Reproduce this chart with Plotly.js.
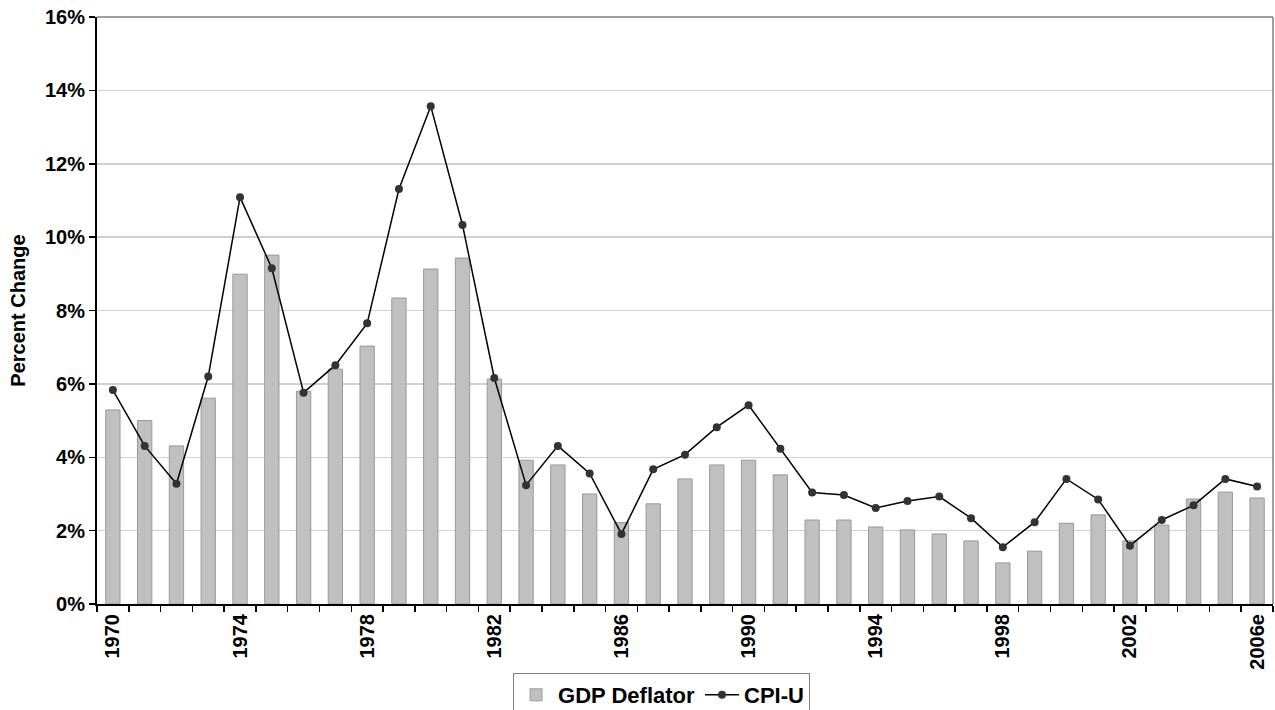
<!DOCTYPE html>
<html>
<head>
<meta charset="utf-8">
<script src="https://cdn.plot.ly/plotly-3.0.1.min.js"></script>
<style>
html,body{margin:0;padding:0;background:#fff;}
#chart{width:1275px;height:710px;}
</style>
</head>
<body>
<div id="chart"></div>
<script>
const years = ["1970","1971","1972","1973","1974","1975","1976","1977","1978","1979",
  "1980","1981","1982","1983","1984","1985","1986","1987","1988","1989",
  "1990","1991","1992","1993","1994","1995","1996","1997","1998","1999",
  "2000","2001","2002","2003","2004","2005","2006e"];
const tickLabels = ["1970","","","","1974","","","","1978","","","","1982","","","","1986","","","",
  "1990","","","","1994","","","","1998","","","","2002","","","","2006e"];
const gdpDeflator = [5.29,5.0,4.31,5.61,8.99,9.51,5.8,6.4,7.03,8.34,
  9.13,9.43,6.13,3.92,3.79,3.0,2.22,2.73,3.41,3.79,
  3.92,3.52,2.29,2.29,2.1,2.02,1.91,1.72,1.12,1.44,
  2.2,2.43,1.72,2.15,2.86,3.05,2.89];
const cpiU = [5.83,4.31,3.28,6.2,11.09,9.15,5.76,6.51,7.65,11.31,
  13.57,10.33,6.16,3.24,4.31,3.56,1.91,3.67,4.07,4.82,
  5.42,4.23,3.04,2.97,2.62,2.81,2.93,2.34,1.55,2.23,
  3.41,2.85,1.59,2.29,2.69,3.41,3.2];
const yTicks = [0,2,4,6,8,10,12,14,16];

const FONT = "'Liberation Sans', Arial, sans-serif";

const traces = [
  {
    type: "bar", name: "GDP Deflator", x: years, y: gdpDeflator,
    width: 0.45,
    marker: {color: "#c0c0c0", line: {color: "#999999", width: 1}},
    hoverinfo: "x+y"
  },
  {
    type: "scatter", mode: "lines+markers", name: "CPI-U", x: years, y: cpiU,
    line: {color: "#000000", width: 1.5},
    marker: {color: "#333333", size: 8}
  }
];

const layout = {
  width: 1275, height: 710,
  margin: {l: 97, r: 2, t: 17, b: 106},
  paper_bgcolor: "#ffffff", plot_bgcolor: "#ffffff",
  font: {family: FONT, color: "#000", size: 19, weight: "bold"},
  showlegend: true,
  legend: {
    orientation: "h", xref: "container", yref: "container",
    x: 0.4024, xanchor: "left", y: 0.0521, yanchor: "top",
    bordercolor: "#808080", borderwidth: 1,
    font: {family: FONT, size: 22, weight: "bold", color: "#000"},
    traceorder: "normal", itemwidth: 34
  },
  xaxis: {
    type: "category",
    tickvals: years, ticktext: tickLabels,
    tickangle: -90,
    tickson: "boundaries",
    ticks: "outside", ticklen: 6, tickcolor: "#000", tickwidth: 1.5,
    showline: true, linecolor: "#000", linewidth: 2,
    showgrid: false,
    tickfont: {family: FONT, size: 20, weight: "bold", color: "#000"},
    range: [-0.5, 36.5]
  },
  yaxis: {
    range: [0, 16],
    tickvals: yTicks,
    ticktext: yTicks.map(v => v + "%"),
    ticks: "outside", ticklen: 6, tickcolor: "#000", tickwidth: 1.5,
    showline: true, linecolor: "#000", linewidth: 2,
    showgrid: true, gridcolor: "#d0d0d0", gridwidth: 1.5,
    zeroline: false,
    tickfont: {family: FONT, size: 20, weight: "bold", color: "#000"},
    title: {text: "Percent Change", font: {family: FONT, size: 20, weight: "bold", color: "#000"}, standoff: 14}
  },
  shapes: [
    {type: "line", xref: "paper", yref: "paper", x0: 0, x1: 1, y0: 1, y1: 1, line: {color: "#808080", width: 1.5}},
    {type: "line", xref: "paper", yref: "paper", x0: 1, x1: 1, y0: 0, y1: 1, line: {color: "#808080", width: 1.5}}
  ]
};

Plotly.newPlot("chart", traces, layout, {displayModeBar: false, staticPlot: true});
</script>
</body>
</html>
